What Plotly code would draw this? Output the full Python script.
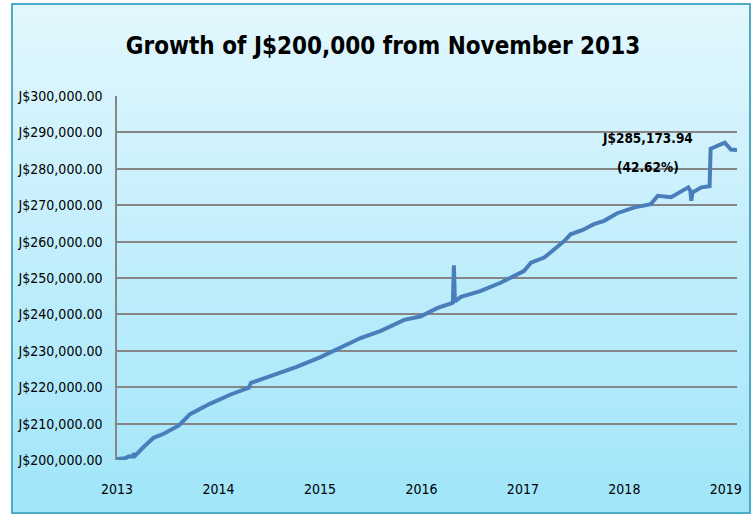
import plotly.graph_objects as go

# ---- data ----
years = [2013.00, 2013.08, 2013.12, 2013.15, 2013.17, 2013.18, 2013.26, 2013.36, 2013.46,
         2013.61, 2013.72, 2013.92, 2014.12, 2014.30, 2014.32, 2014.51, 2014.77, 2015.00,
         2015.20, 2015.40, 2015.60, 2015.83, 2015.99, 2016.16, 2016.30, 2016.31, 2016.32,
         2016.33, 2016.39, 2016.58, 2016.78, 2016.90, 2017.01, 2017.08, 2017.21, 2017.31,
         2017.41, 2017.47, 2017.59, 2017.70, 2017.80, 2017.93, 2018.10, 2018.26, 2018.33,
         2018.46, 2018.59, 2018.63, 2018.65, 2018.66, 2018.67, 2018.76, 2018.84, 2018.85,
         2018.89, 2018.99, 2019.05, 2019.11]
values = [200300, 200500, 201000, 200900, 201800, 201200, 203500, 206100, 207200,
          209500, 212600, 215500, 218000, 219900, 221200, 223100, 225600, 228200,
          231000, 233500, 235500, 238500, 239400, 241800, 243100, 243300, 253500,
          243600, 244800, 246400, 248700, 250500, 251900, 254200, 255600, 257900,
          260200, 262000, 263200, 264800, 265700, 267800, 269400, 270300, 272600,
          272200, 274400, 274900, 274000, 271200, 273500, 274900, 275200, 285500,
          286000, 287200, 285300, 285173.94]
x_ticks = [2013, 2014, 2015, 2016, 2017, 2018, 2019]
x_tick_labels = ["2013", "2014", "2015", "2016", "2017", "2018", "2019"]
title_text = "Growth of J$200,000 from November 2013"
final_value_text = "J$285,173.94"
final_pct_text = "(42.62%)"

FONT = "DejaVu Sans Condensed, Liberation Sans Narrow, Arial Narrow, sans-serif"

fig = go.Figure()
fig.add_trace(go.Scatter(
    x=years, y=values, mode="lines",
    line=dict(color="#4a7ebb", width=4),
    hoverinfo="x+y", showlegend=False,
))

# gradient background (stripes) inside a bordered frame
W, H = 755, 515
l, r, t, b = 117, 18, 96, 55
pw, ph = W - l - r, H - t - b

def px_to_paper_x(px):
    return (px - l) / pw

def py_to_paper_y(py):
    return (H - b - py) / ph

x0, x1 = px_to_paper_x(12), px_to_paper_x(750)
top_py, bot_py = 4, 513
n = 60
c_top = (226, 247, 253)
c_bot = (160, 229, 250)
shapes = []
for i in range(n):
    f = i / (n - 1)
    col = tuple(round(c_top[k] + (c_bot[k] - c_top[k]) * f) for k in range(3))
    ya = top_py + (bot_py - top_py) * i / n
    yb = top_py + (bot_py - top_py) * (i + 1) / n + 0.6
    shapes.append(dict(type="rect", xref="paper", yref="paper",
                       x0=x0, x1=x1, y0=py_to_paper_y(yb), y1=py_to_paper_y(ya),
                       fillcolor="rgb(%d,%d,%d)" % col, line=dict(width=0), layer="below"))
shapes.append(dict(type="rect", xref="paper", yref="paper",
                   x0=x0, x1=x1, y0=py_to_paper_y(bot_py), y1=py_to_paper_y(top_py),
                   fillcolor="rgba(0,0,0,0)", line=dict(color="#4bacc6", width=2), layer="above"))

fig.update_layout(
    width=W, height=H,
    margin=dict(l=l, r=r, t=t, b=b, autoexpand=False),
    paper_bgcolor="white",
    plot_bgcolor="rgba(0,0,0,0)",
    shapes=shapes,
    font=dict(family=FONT, size=14, color="black"),
    title=dict(text="<b>" + title_text + "</b>", x=px_to_paper_x(383), xref="paper",
               xanchor="center", y=1 - 46 / H, yref="container", yanchor="middle",
               font=dict(family=FONT, size=24, color="black")),
    xaxis=dict(range=[2013, 2019.11], tickmode="array", tickvals=x_ticks,
               ticktext=x_tick_labels, showgrid=False, zeroline=False, showline=False,
               automargin=False,
               ticks="outside", ticklen=16, tickcolor="rgba(0,0,0,0)",
               tickfont=dict(family=FONT, size=14, color="black")),
    yaxis=dict(range=[200000, 300000], dtick=10000, tick0=200000,
               tickprefix="J$", tickformat=",.2f", automargin=False,
               showgrid=True, gridcolor="#868686", gridwidth=1.5,
               showline=True, linecolor="#868686", linewidth=1.5,
               zeroline=False, ticks="outside", ticklen=10, tickcolor="rgba(0,0,0,0)",
               tickfont=dict(family=FONT, size=14, color="black")),
    annotations=[
        dict(x=2018.23, y=288460, xref="x", yref="y", text="<b>" + final_value_text + "</b>",
             showarrow=False, font=dict(family=FONT, size=13.5, color="black")),
        dict(x=2018.23, y=280490, xref="x", yref="y", text="<b>" + final_pct_text + "</b>",
             showarrow=False, font=dict(family=FONT, size=13.5, color="black")),
    ],
)

fig.write_html("out.html", config={"displayModeBar": False},
               post_script="document.body.style.margin='0';document.body.style.overflow='hidden';")
